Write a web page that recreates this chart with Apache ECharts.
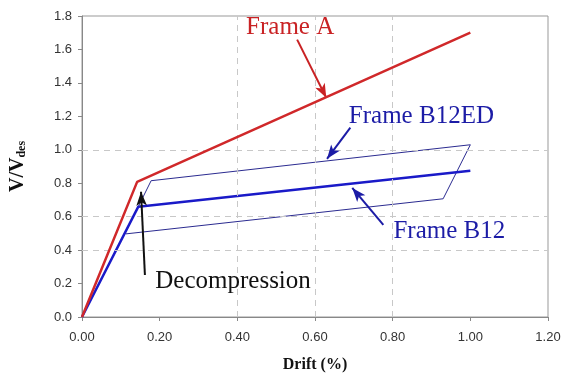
<!DOCTYPE html>
<html>
<head>
<meta charset="utf-8">
<script src="https://cdn.jsdelivr.net/npm/echarts@6/dist/echarts.min.js"></script>
<style>
  html, body { margin: 0; padding: 0; background: #fff; }
  #chart { width: 563px; height: 375px; }
</style>
</head>
<body>
<div id="chart"></div>
<script>
// curves: [drift %, V/Vdes]
const frameA = [[0, 0], [0.142, 0.808], [1.0, 1.70]];
const frameB12 = [[0, 0], [0.145, 0.66], [1.0, 0.874]];
const frameB12ED = [[0, 0], [0.145, 0.66], [0.178, 0.815], [1.0, 1.03], [0.93, 0.707], [0.113, 0.497]];

// dashed guide lines that show in the picture
const gridY = [0.4, 0.6, 1.0];
const gridX = [0.4, 0.6, 0.8];

// annotations: label text, label position, arrow tail, arrow tip
const notes = [
  { text: 'Frame A', pos: [0.536, 1.73], from: [0.554, 1.659], to: [0.629, 1.311], color: '#c92224' },
  { text: 'Frame B12ED', pos: [0.874, 1.198], from: [0.691, 1.132], to: [0.631, 0.946], color: '#1c1ca6' },
  { text: 'Frame B12', pos: [0.946, 0.509], from: [0.776, 0.551], to: [0.696, 0.772], color: '#1c1ca6' },
  { text: 'Decompression', pos: [0.389, 0.21], from: [0.162, 0.251], to: [0.152, 0.749], color: '#111' }
];

const chart = echarts.init(document.getElementById('chart'));
const serif = '"Liberation Serif", "DejaVu Serif", serif';
const sans = '"Liberation Sans", Arial, sans-serif';

const guideLines = [
  ...gridY.map(v => ({ yAxis: v })),
  ...gridX.map(v => ({ xAxis: v }))
];

chart.setOption({
  animation: false,
  backgroundColor: '#fff',
  grid: {
    left: 82, right: 15, top: 16, bottom: 58, outerBoundsMode: 'none',
    show: true, borderColor: '#999', borderWidth: 1
  },
  xAxis: {
    type: 'value', min: 0, max: 1.2, interval: 0.2,
    name: 'Drift (%)', nameLocation: 'middle', nameGap: 40,
    nameTextStyle: { fontFamily: serif, fontWeight: 'bold', fontSize: 16, color: '#111' },
    axisLine: { lineStyle: { color: '#888' } },
    axisTick: { show: true, length: 4, lineStyle: { color: '#888' } },
    axisLabel: { fontFamily: sans, fontSize: 13, color: '#333', margin: 14, formatter: v => v.toFixed(2) },
    splitLine: { show: false }
  },
  yAxis: {
    type: 'value', min: 0, max: 1.8, interval: 0.2,
    name: '{a|V/V}{b|des}', nameLocation: 'middle', nameGap: 54, nameRotate: 90,
    nameTextStyle: {
      rich: {
        a: { fontFamily: serif, fontWeight: 'bold', fontSize: 20, color: '#111' },
        b: { fontFamily: serif, fontWeight: 'bold', fontSize: 12, color: '#111', padding: [9, 0, 0, 0] }
      }
    },
    axisLine: { show: true, lineStyle: { color: '#888' } },
    axisTick: { show: true, length: 4, lineStyle: { color: '#888' } },
    axisLabel: { fontFamily: sans, fontSize: 13, color: '#333', margin: 10, formatter: v => v.toFixed(1) },
    splitLine: { show: false }
  },
  series: [
    {
      name: 'guides', type: 'line', data: [], silent: true,
      markLine: {
        silent: true, symbol: 'none', label: { show: false },
        lineStyle: { color: '#c8c8c8', type: [6, 5], width: 1 },
        data: guideLines
      }
    },
    {
      name: 'Frame B12ED', type: 'line', data: frameB12ED, showSymbol: false,
      lineStyle: { color: '#2b2b90', width: 1 }, z: 3
    },
    {
      name: 'Frame B12', type: 'line', data: frameB12, showSymbol: false,
      lineStyle: { color: '#1a1ac8', width: 2.5 }, z: 4
    },
    {
      name: 'Frame A', type: 'line', data: frameA, showSymbol: false,
      lineStyle: { color: '#d0282a', width: 2.5 }, z: 5
    },
    {
      name: 'notes', type: 'line', data: [], silent: true, z: 6,
      markLine: {
        silent: true, symbol: ['none', 'arrow'], symbolSize: [8, 14],
        label: { show: false },
        data: notes.map(n => [
          { coord: n.from, lineStyle: { color: n.color, width: 2, type: 'solid' }, itemStyle: { color: n.color } },
          { coord: n.to }
        ])
      },
      markPoint: {
        silent: true, symbol: 'circle', symbolSize: 0,
        data: notes.map(n => ({
          coord: n.pos,
          label: {
            show: true, position: 'inside', formatter: n.text,
            fontFamily: serif, fontSize: 25, color: n.color
          }
        }))
      }
    }
  ]
});
</script>
</body>
</html>
